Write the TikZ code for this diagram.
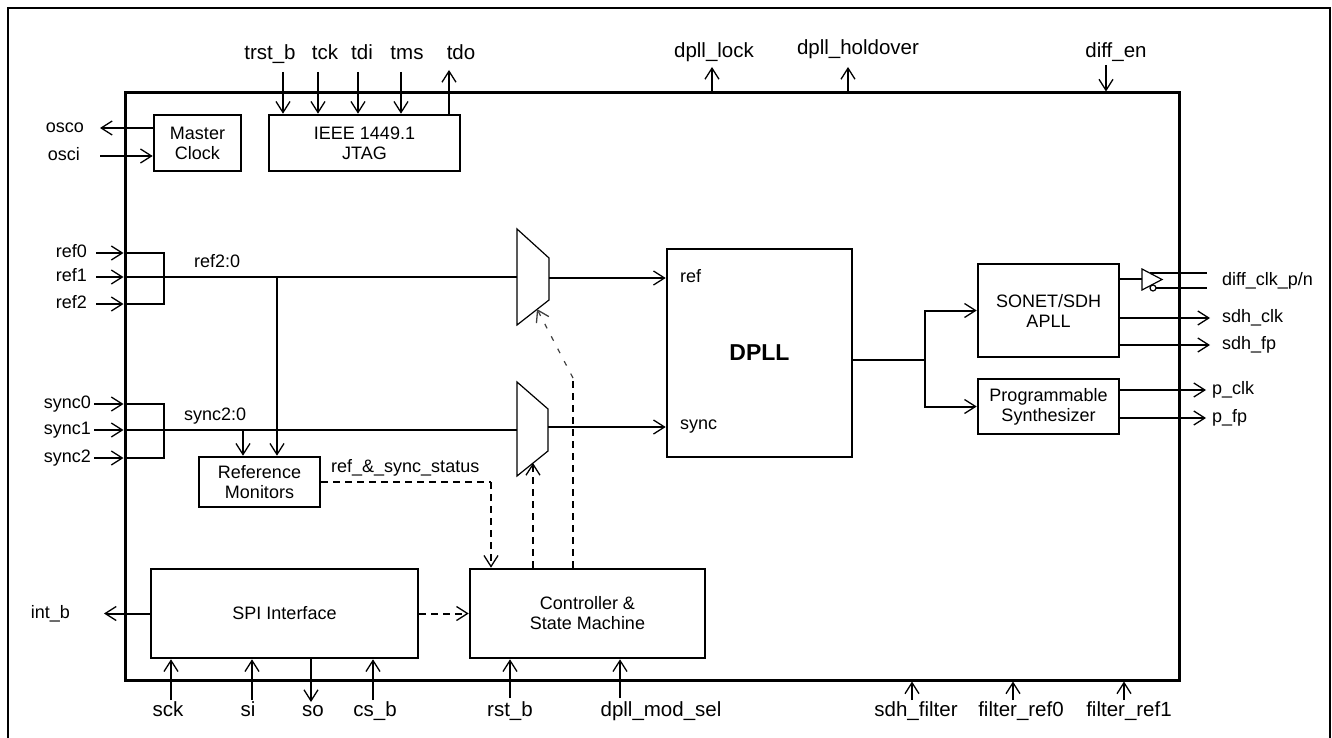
\documentclass[tikz,border=0pt]{standalone}
\usepackage{fontspec}
\setmainfont{Liberation Sans}
\usetikzlibrary{positioning}
\usetikzlibrary{arrows.meta}
\tikzset{%
  sig/.style = {line width=2pt},
  sigarrow/.style = {sig,-{Straight Barb[length=11pt,width=14pt,line width=1.3pt]}},
  ctlline/.style = {sig,dash pattern=on 7pt off 5pt},
  ctlarrow/.style = {sigarrow,dash pattern=on 7pt off 5pt},
  blk/.style = {rectangle,draw,line width=2.6pt,align=center,
        font=\fontsize{18}{20}\selectfont},
  pinlbl/.style = {inner sep=1pt,text height=13pt,text depth=4pt,
        font=\fontsize{18}{20}\selectfont},
  bigpinlbl/.style = {inner sep=1pt,font=\fontsize{20.5}{22}\selectfont},
  muxshape/.style = {line width=1.2pt}
}

\begin{document}
\begin{tikzpicture}[x=1pt,y=-1pt]
   \useasboundingbox (0,0) rectangle (1332,738);
   % frame round the sheet, open at the bottom
   \draw[line width=2.6pt] (8,745) |- (1330,8) -- (1330,745);

   \node[blk,line width=3pt,minimum width=1054pt,minimum height=587pt] (chip) at (652,386.5) {};
   \node[blk,minimum width=87pt,minimum height=56pt] (mclk) at (197.5,143) {Master\\Clock};
   \node[blk,minimum width=191pt,minimum height=56pt] (jtag) at (364.5,143) {IEEE 1449.1\\JTAG};
   \node[blk,minimum width=121pt,minimum height=50pt] (refmon) at (259.5,482) {Reference\\Monitors};
   \node[blk,minimum width=267pt,minimum height=89pt] (spi) at (284.5,613.5) {SPI Interface};
   \node[blk,minimum width=235pt,minimum height=89pt] (ctrl) at (587.5,613.5) {Controller \&\\State Machine};
   \node[blk,minimum width=185pt,minimum height=208pt,
         font=\fontsize{23}{26}\selectfont\bfseries] (dpll) at (759.5,353) {DPLL};
   \node[blk,minimum width=141pt,minimum height=93pt] (apll) at (1048.5,310.5) {SONET/SDH\\APLL};
   \node[blk,minimum width=141pt,minimum height=55pt] (synth) at (1048.5,406.5) {Programmable\\Synthesizer};

   % jtag pins
   \coordinate (p-trst) at (283,72);
   \coordinate (p-tck) at (318,72);
   \coordinate (p-tdi) at (358,72);
   \coordinate (p-tms) at (401,72);
   \coordinate (p-tdo) at (449,70);
   \draw[sigarrow] (p-trst) -- (p-trst |- jtag.north);
   \draw[sigarrow] (p-tck) -- (p-tck |- jtag.north);
   \draw[sigarrow] (p-tdi) -- (p-tdi |- jtag.north);
   \draw[sigarrow] (p-tms) -- (p-tms |- jtag.north);
   \draw[sigarrow] (p-tdo |- jtag.north) -- (p-tdo);
   \node[bigpinlbl,anchor=base] (l-trst) at (270,60) {trst\_b};
   \node[bigpinlbl,anchor=base] (l-tck) at (325,60) {tck};
   \node[bigpinlbl,anchor=base] (l-tdi) at (362,60) {tdi};
   \node[bigpinlbl,anchor=base] (l-tms) at (407,60) {tms};
   \node[bigpinlbl,anchor=base] (l-tdo) at (461,60) {tdo};

   % status pins on top
   \coordinate (p-lock) at (712,67);
   \coordinate (p-hold) at (848,67);
   \coordinate (p-diffen) at (1106,65);
   \draw[sigarrow] (p-lock |- chip.north) -- (p-lock);
   \draw[sigarrow] (p-hold |- chip.north) -- (p-hold);
   \draw[sigarrow] (p-diffen) -- (p-diffen |- chip.north);
   \node[bigpinlbl,anchor=base] (l-lock) at (714,58) {dpll\_lock};
   \node[bigpinlbl,anchor=base] (l-hold) at (858,55) {dpll\_holdover};
   \node[bigpinlbl,anchor=base] (l-diffen) at (1116,58) {diff\_en};

   % oscillator
   \coordinate (p-osco) at (100,128);
   \coordinate (p-osci) at (100,156);
   \draw[sigarrow] (mclk.west |- p-osco) -- (p-osco);
   \draw[sigarrow] (p-osci) -- (p-osci -| mclk.west);
   \node[pinlbl,left=15pt of p-osco] (l-osco) {osco};
   \node[pinlbl,left=19pt of p-osci] (l-osci) {osci};

   % reference inputs
   \coordinate (p-ref0) at (96,253);
   \coordinate (p-ref1) at (96,277);
   \coordinate (p-ref2) at (96,304);
   \coordinate (ref-join) at (164,277);
   \coordinate (refmux-in) at (517,277);
   \coordinate (refmux-out) at (549,278);
   \coordinate (refmux-sel) at (537,309);
   \draw[sigarrow] (p-ref0) -- (p-ref0 -| chip.west);
   \draw[sigarrow] (p-ref1) -- (p-ref1 -| chip.west);
   \draw[sigarrow] (p-ref2) -- (p-ref2 -| chip.west);
   \draw[sig] (p-ref0 -| chip.west) -| (ref-join) |- (p-ref2 -| chip.west);
   \draw[sig] (p-ref1 -| chip.west) -- (refmux-in);
   \node[pinlbl,left=8pt of p-ref0] (l-ref0) {ref0};
   \node[pinlbl,left=8pt of p-ref1] (l-ref1) {ref1};
   \node[pinlbl,left=8pt of p-ref2] (l-ref2) {ref2};
   \node[pinlbl,anchor=base west,text height=,text depth=] (l-refbus) at (193,267) {ref2:0};

   % sync inputs
   \coordinate (p-sync0) at (94,404);
   \coordinate (p-sync1) at (94,430);
   \coordinate (p-sync2) at (94,458);
   \coordinate (sync-join) at (164,430);
   \coordinate (syncmux-in) at (517,430);
   \coordinate (syncmux-out) at (548,427);
   \coordinate (syncmux-sel) at (533,463);
   \draw[sigarrow] (p-sync0) -- (p-sync0 -| chip.west);
   \draw[sigarrow] (p-sync1) -- (p-sync1 -| chip.west);
   \draw[sigarrow] (p-sync2) -- (p-sync2 -| chip.west);
   \draw[sig] (p-sync0 -| chip.west) -| (sync-join) |- (p-sync2 -| chip.west);
   \draw[sig] (p-sync1 -| chip.west) -- (syncmux-in);
   \node[pinlbl,left=2pt of p-sync0] (l-sync0) {sync0};
   \node[pinlbl,left=2pt of p-sync1] (l-sync1) {sync1};
   \node[pinlbl,left=2pt of p-sync2] (l-sync2) {sync2};
   \node[pinlbl,anchor=base west,text height=,text depth=] (l-syncbus) at (183,420) {sync2:0};

   % muxes
   \draw[muxshape] (517,229) -- (549,258) -- (549,300) -- (517,325) -- cycle;
   \draw[muxshape] (517,382) -- (548,409) -- (548,451) -- (517,476) -- cycle;
   \draw[sigarrow] (refmux-out) -- (refmux-out -| dpll.west);
   \draw[sigarrow] (syncmux-out) -- (syncmux-out -| dpll.west);
   \coordinate (dpll-ref) at (667,278);
   \coordinate (dpll-sync) at (667,425);
   \node[pinlbl,right=12pt of dpll-ref] (t-ref) {ref};
   \node[pinlbl,right=12pt of dpll-sync] (t-sync) {sync};

   % reference monitors
   \coordinate (tap-ref) at (277,277);
   \coordinate (tap-sync) at (243,430);
   \coordinate (stat-turn) at (491,482);
   \draw[sigarrow] (tap-ref) -- (tap-ref |- refmon.north);
   \draw[sigarrow] (tap-sync) -- (tap-sync |- refmon.north);
   \draw[ctlline] (refmon.east) -- (stat-turn);
   \draw[ctlarrow] (stat-turn) -- (stat-turn |- ctrl.north);
   \node[pinlbl,anchor=base west,text height=,text depth=] (l-stat) at (330,472) {ref\_\&\_sync\_status};

   % mux selects
   \coordinate (refsel-bend) at (573,378);
   \draw[ctlline] (refsel-bend |- ctrl.north) -- (refsel-bend);
   \draw[ctlarrow,line width=1.2pt,black!75,dash pattern=on 5pt off 9pt] (refsel-bend) -- (refmux-sel);
   \draw[ctlarrow] (syncmux-sel |- ctrl.north) -- (syncmux-sel);

   % spi and controller
   \coordinate (p-intb) at (104,613.5);
   \draw[sigarrow] (spi.west) -- (p-intb);
   \node[pinlbl,left=33pt of p-intb] (l-intb) {int\_b};
   \draw[ctlarrow] (spi.east) -- (ctrl.west);

   % bottom pins
   \coordinate (p-sck) at (171,700);
   \coordinate (p-si) at (252,700);
   \coordinate (p-so) at (311,702);
   \coordinate (p-csb) at (373,700);
   \coordinate (p-rstb) at (510,698);
   \coordinate (p-msel) at (620,698);
   \coordinate (p-sdhf) at (912,700);
   \coordinate (p-fr0) at (1013,700);
   \coordinate (p-fr1) at (1124,700);
   \draw[sigarrow] (p-sck) -- (p-sck |- spi.south);
   \draw[sigarrow] (p-si) -- (p-si |- spi.south);
   \draw[sigarrow] (p-so |- spi.south) -- (p-so);
   \draw[sigarrow] (p-csb) -- (p-csb |- spi.south);
   \draw[sigarrow] (p-rstb) -- (p-rstb |- ctrl.south);
   \draw[sigarrow] (p-msel) -- (p-msel |- ctrl.south);
   \draw[sigarrow] (p-sdhf) -- (p-sdhf |- chip.south);
   \draw[sigarrow] (p-fr0) -- (p-fr0 |- chip.south);
   \draw[sigarrow] (p-fr1) -- (p-fr1 |- chip.south);
   \node[bigpinlbl,anchor=base] (l-sck) at (168,716) {sck};
   \node[bigpinlbl,anchor=base] (l-si) at (248,716) {si};
   \node[bigpinlbl,anchor=base] (l-so) at (313,716) {so};
   \node[bigpinlbl,anchor=base] (l-csb) at (375,716) {cs\_b};
   \node[bigpinlbl,anchor=base] (l-rstb) at (510,716) {rst\_b};
   \node[bigpinlbl,anchor=base] (l-msel) at (661,716) {dpll\_mod\_sel};
   \node[bigpinlbl,anchor=base] (l-sdhf) at (916,716) {sdh\_filter};
   \node[bigpinlbl,anchor=base] (l-fr0) at (1021,716) {filter\_ref0};
   \node[bigpinlbl,anchor=base] (l-fr1) at (1129,716) {filter\_ref1};

   % dpll to apll and synthesizer
   \coordinate (split) at (925,360);
   \draw[sig] (dpll.east |- split) -- (split);
   \draw[sigarrow] (split) |- (apll.west);
   \draw[sigarrow] (split) |- (synth.west);

   % differential buffer
   \coordinate (buf-in) at (1142,278.5);
   \coordinate (buf-p) at (1150,273);
   \coordinate (buf-n) at (1156,288);
   \coordinate (p-diffp) at (1207,273);
   \coordinate (p-diffn) at (1207,288);
   \coordinate (p-diff) at (1207,280.5);
   \draw[sig] (apll.east |- buf-in) -- (buf-in);
   \draw[muxshape] (1142,269) -- (1162,279.5) -- (1142,290) -- cycle;
   \draw[muxshape] (1153,288) circle (3pt);
   \draw[sig] (buf-p) -- (p-diffp);
   \draw[sig] (buf-n) -- (p-diffn);
   \node[pinlbl,right=14pt of p-diff] (l-diff) {diff\_clk\_p/n};

   % clock outputs
   \coordinate (p-sdhclk) at (1210,318);
   \coordinate (p-sdhfp) at (1210,345);
   \coordinate (p-pclk) at (1206,390);
   \coordinate (p-pfp) at (1206,418);
   \draw[sigarrow] (apll.east |- p-sdhclk) -- (p-sdhclk);
   \draw[sigarrow] (apll.east |- p-sdhfp) -- (p-sdhfp);
   \draw[sigarrow] (synth.east |- p-pclk) -- (p-pclk);
   \draw[sigarrow] (synth.east |- p-pfp) -- (p-pfp);
   \node[pinlbl,right=11pt of p-sdhclk] (l-sdhclk) {sdh\_clk};
   \node[pinlbl,right=11pt of p-sdhfp] (l-sdhfp) {sdh\_fp};
   \node[pinlbl,right=5pt of p-pclk] (l-pclk) {p\_clk};
   \node[pinlbl,right=5pt of p-pfp] (l-pfp) {p\_fp};
\end{tikzpicture}
\end{document}
